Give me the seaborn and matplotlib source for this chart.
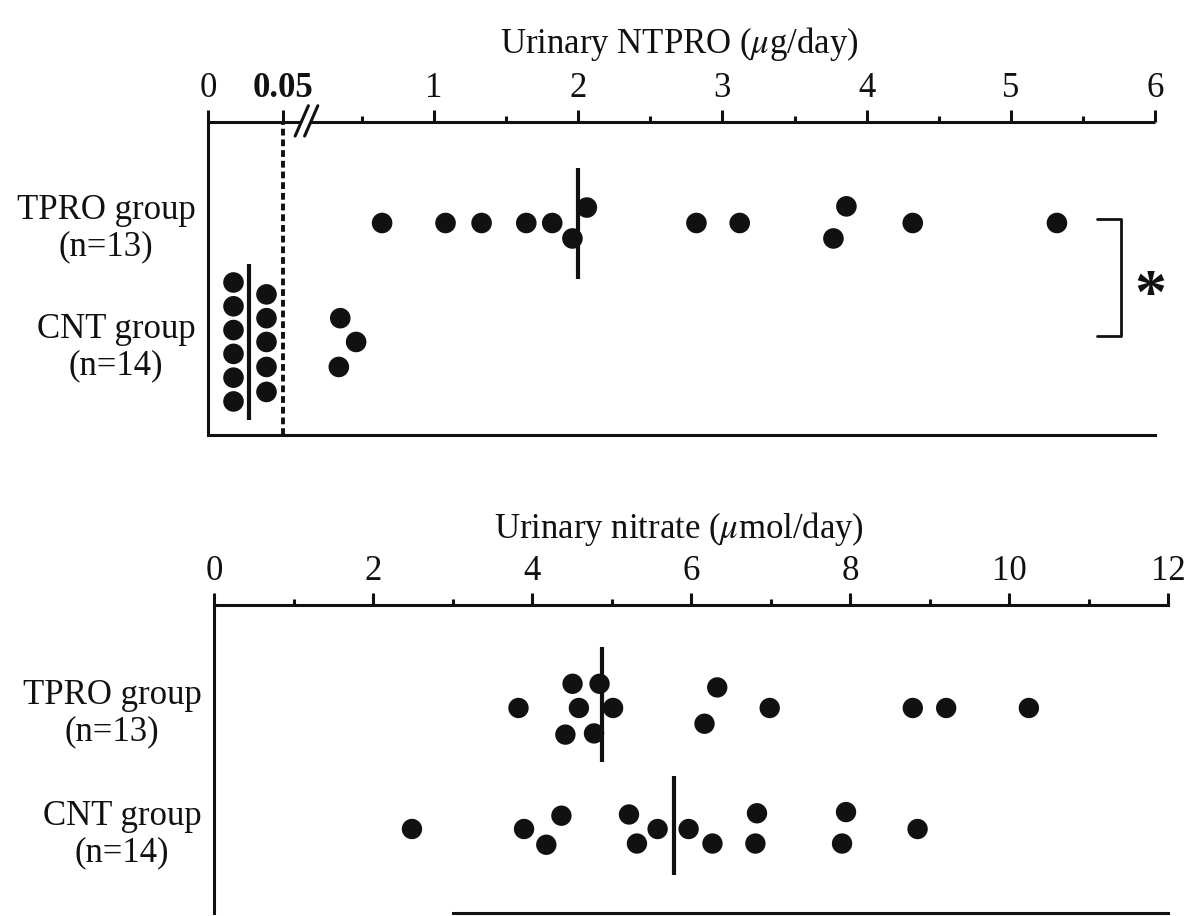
import numpy as np
import pandas as pd
import matplotlib
matplotlib.use("Agg")
import matplotlib.pyplot as plt
import seaborn as sns

# Werte
gruppen = ["TPRO group\n(n=13)", "CNT group\n(n=14)"]

# Urinary NTPRO (ug/day)
tpro_ntpro = [0.64, 1.08, 1.33, 1.64, 1.82, 1.96, 2.06, 2.82, 3.12, 3.77, 3.86, 4.32, 5.32]
tpro_ntpro_versatz = [0, 0, 0, 0, 0, 0.13, -0.13, 0, 0, 0.13, -0.14, 0, 0]
cnt_ntpro = [0.017, 0.017, 0.017, 0.017, 0.017, 0.017,
             0.039, 0.039, 0.039, 0.039, 0.039,
             0.35, 0.46, 0.34]
cnt_ntpro_versatz = [-0.50, -0.30, -0.10, 0.10, 0.30, 0.50,
                     -0.40, -0.20, 0, 0.21, 0.42,
                     -0.20, 0, 0.21]
ntpro_median = [2.0, 0.027]

# Urinary nitrate (umol/day)
tpro_nitrat = [3.83, 4.42, 4.51, 4.59, 4.78, 4.85, 5.02, 6.17, 6.33, 6.99, 8.79, 9.21, 10.25]
tpro_nitrat_versatz = [0, 0.22, -0.20, 0, 0.21, -0.20, 0, 0.13, -0.17, 0, 0, 0, 0]
cnt_nitrat = [2.49, 3.90, 4.18, 4.37, 5.22, 5.32, 5.58, 5.97, 6.27, 6.81, 6.83, 7.90, 7.95, 8.85]
cnt_nitrat_versatz = [0, 0, 0.13, -0.11, -0.12, 0.12, 0, 0, 0.12, 0.12, -0.13, 0.12, -0.14, 0]
nitrat_median = [4.88, 5.78]

ntpro_ticks = [0, 0.05, 1, 2, 3, 4, 5, 6]
ntpro_ticklabels = ["0", "0.05", "1", "2", "3", "4", "5", "6"]
nitrat_ticks = [0, 2, 4, 6, 8, 10, 12]

sns.set_style("white")
plt.rcParams["font.family"] = ["Liberation Serif", "DejaVu Sans"]
plt.rcParams["mathtext.fontset"] = "stix"

SCHWARZ = "#111111"
FS = 25
LW = 2.2

# gebrochene Achse: 0..0.05 gedehnt, danach linear
GRENZE = 0.05
def vorwaerts(v):
    v = np.asarray(v, dtype=float)
    return np.where(v <= GRENZE, v * 1500.0, 81.8 + 144.2 * v)

def rueckwaerts(u):
    u = np.asarray(u, dtype=float)
    return np.where(u <= 75, u / 1500.0, np.where(u < 89, GRENZE, (u - 81.8) / 144.2))


def tabelle(werte_a, versatz_a, werte_b, versatz_b):
    df = pd.DataFrame({
        "wert": werte_a + werte_b,
        "gruppe": [0] * len(werte_a) + [1] * len(werte_b),
        "versatz": versatz_a + versatz_b,
    })
    df["pos"] = df["gruppe"] + df["versatz"]
    return df


fig = plt.figure(figsize=(11.92, 9.16), dpi=100)
ax1 = fig.add_axes([208 / 1192, 1 - 435 / 916, 947 / 1192, 313 / 916])
ax2 = fig.add_axes([214 / 1192, 1 - 913 / 916, 954 / 1192, 308 / 916])

# ---------- oberes Diagramm ----------
ax1.set_xscale("function", functions=(vorwaerts, rueckwaerts))
df1 = tabelle(tpro_ntpro, tpro_ntpro_versatz, cnt_ntpro, cnt_ntpro_versatz)
sns.scatterplot(data=df1, x="wert", y="pos", ax=ax1, s=220, color=SCHWARZ,
                edgecolor="none", linewidth=0, legend=False, zorder=3)
ax1.vlines(ntpro_median, [-0.46, -0.655 + 1], [0.47, 0.66 + 1], color=SCHWARZ, lw=3, zorder=4)
ax1.axvline(GRENZE, color=SCHWARZ, lw=2.8, ls=(0, (1.75, 1.0)), zorder=2)

ax1.set_xlim(0, 6)
ax1.set_ylim(1.782, -0.849)
ax1.xaxis.tick_top()
ax1.set_xticks(ntpro_ticks, ntpro_ticklabels)
ax1.set_xticks(np.arange(0.5, 6, 1), minor=True)
ax1.get_xticklabels()[1].set_fontweight("bold")
ax1.set_yticks([0, 1], gruppen, ma="center", linespacing=1.15)
ax1.set_xlabel("")
ax1.set_ylabel("")

# Achsenlinie oben mit Bruchstelle
tr = ax1.transAxes
ax1.spines["top"].set_visible(False)
ax1.plot([0, 0.098], [1, 1], transform=tr, color=SCHWARZ, lw=LW, clip_on=False, solid_capstyle="butt")
ax1.plot([0.108, 1], [1, 1], transform=tr, color=SCHWARZ, lw=LW, clip_on=False, solid_capstyle="butt")
for x0 in (0.092, 0.102):
    ax1.plot([x0, x0 + 0.014], [0.955, 1.052], transform=tr, color=SCHWARZ, lw=LW, clip_on=False)

# Signifikanzklammer
ax1.plot([5.60, 5.765, 5.765, 5.60], [-0.034, -0.034, 0.95, 0.95], color=SCHWARZ, lw=2, clip_on=False)
ax1.text(5.97, 0.76, "*", fontsize=46, fontweight="bold", ha="center", va="baseline",
         color=SCHWARZ, clip_on=False)

# ---------- unteres Diagramm ----------
df2 = tabelle(tpro_nitrat, tpro_nitrat_versatz, cnt_nitrat, cnt_nitrat_versatz)
sns.scatterplot(data=df2, x="wert", y="pos", ax=ax2, s=215, color=SCHWARZ,
                edgecolor="none", linewidth=0, legend=False, zorder=3)
ax2.vlines(nitrat_median, [-0.50, -0.44 + 1], [0.45, 0.38 + 1], color=SCHWARZ, lw=3, zorder=4)

ax2.set_xlim(0, 12)
ax2.set_ylim(1.694, -0.851)
ax2.xaxis.tick_top()
ax2.set_xticks(nitrat_ticks, [str(t) for t in nitrat_ticks])
ax2.set_xticks(np.arange(1, 12, 2), minor=True)
ax2.set_yticks([0, 1], gruppen, ma="center", linespacing=1.15)
ax2.set_xlabel("")
ax2.set_ylabel("")
ax2.spines["bottom"].set_bounds(3, 12)

for ax in (ax1, ax2):
    ax.spines["right"].set_visible(False)
    for s in ax.spines.values():
        s.set_linewidth(LW)
        s.set_color(SCHWARZ)
    ax.tick_params(axis="x", which="major", direction="out", length=8.5, width=LW,
                   labelsize=FS, pad=4, colors=SCHWARZ)
    ax.tick_params(axis="x", which="minor", direction="out", length=4.5, width=LW, colors=SCHWARZ)
    ax.tick_params(axis="y", length=0, pad=9, labelsize=FS, colors=SCHWARZ)
    ax.set_facecolor("white")

# Achsentitel
fig.text(679 / 1192, 1 - 44 / 916, r"Urinary NTPRO ($\mu$g/day)", ha="center", va="center",
         fontsize=FS, color=SCHWARZ)
fig.text(679 / 1192, 1 - 529 / 916, r"Urinary nitrate ($\mu$mol/day)", ha="center", va="center",
         fontsize=FS, color=SCHWARZ)

fig.savefig("out.png", dpi=100, facecolor="white")
